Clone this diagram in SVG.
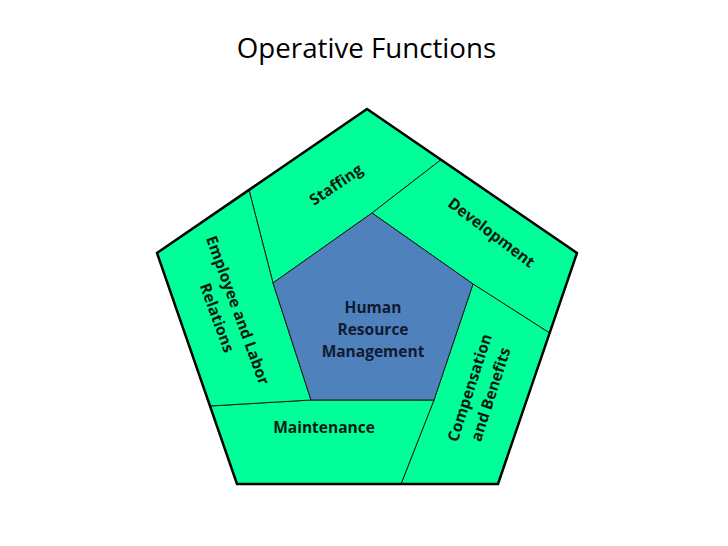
<svg xmlns="http://www.w3.org/2000/svg" width="728" height="546" viewBox="0 0 728 546">
  <style>
    .seg { fill: #00FF99; stroke: #1a1a1a; stroke-width: 1; stroke-linejoin: miter; }
    .core { fill: #4F81BD; stroke: #1a1a1a; stroke-width: 1; }
    .lbl { font-family: "Open Sans", "Liberation Sans", sans-serif; font-weight: bold; font-size: 15.5px; fill: #0d1a12; text-anchor: middle; }
    .clbl { fill: #101a30; }
    .title { font-family: "Open Sans", "Liberation Sans", sans-serif; font-size: 27.7px; fill: #000; text-anchor: middle; }
  </style>
  <rect width="728" height="546" fill="#ffffff"/>
  <text class="title" x="366.5" y="58">Operative Functions</text>

  <g id="staffing">
    <polygon class="seg" points="249,190 367,109 441,159.7 372,213 273,283"/>
    <text class="lbl" transform="translate(336,184.5) rotate(-34)" x="0" y="5.5">Staffing</text>
  </g>
  <g id="development">
    <polygon class="seg" points="441,159.7 577,253 549.6,333 473,284 372,213"/>
    <text class="lbl" transform="translate(491.5,232.5) rotate(37)" x="0" y="5.5">Development</text>
  </g>
  <g id="compensation">
    <polygon class="seg" points="549.6,333 498,484 401,484 434,400 473,284"/>
    <g transform="translate(480,391) rotate(-72)">
      <text class="lbl" x="0" y="-5.5">Compensation</text>
      <text class="lbl" x="0" y="16.5">and Benefits</text>
    </g>
  </g>
  <g id="maintenance">
    <polygon class="seg" points="401,484 237,484 210,406 311,400 434,400"/>
    <text class="lbl" x="324" y="433">Maintenance</text>
  </g>
  <g id="employee-labor-relations">
    <polygon class="seg" points="210,406 157,253 249,190 273,283 311,400"/>
    <g transform="translate(227.5,314) rotate(70)">
      <text class="lbl" x="0" y="-5.5">Employee and Labor</text>
      <text class="lbl" x="0" y="16.5">Relations</text>
    </g>
  </g>
  <g id="hrm">
    <polygon class="core" points="372,213 473,284 434,400 311,400 273,283"/>
    <text class="lbl clbl" x="373" y="313">Human</text>
    <text class="lbl clbl" x="373" y="335">Resource</text>
    <text class="lbl clbl" x="373" y="357">Management</text>
  </g>
  <polygon id="outline" points="367,109 577,253 498,484 237,484 157,253" fill="none" stroke="#000" stroke-width="2.5" stroke-linejoin="miter"/>
</svg>
